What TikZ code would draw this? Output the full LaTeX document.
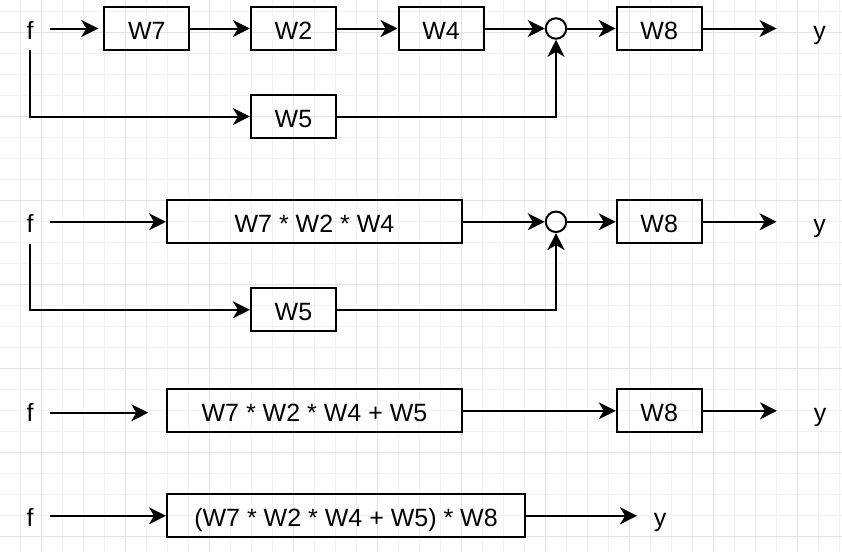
\documentclass[tikz,border=0pt]{standalone}
\usepackage{fontspec}
\setmainfont{Liberation Sans}
\usetikzlibrary{arrows.meta}

\definecolor{gridminor}{HTML}{F2F2F2}
\definecolor{gridmajor}{HTML}{E3E3E3}

\begin{document}
\begin{tikzpicture}[x=1pt,y=-1pt,
        every node/.style={font=\fontsize{25}{30}\selectfont,text height=21.6pt,text depth=0pt},
        block/.style={draw,line width=2pt,minimum width=85pt,minimum height=43pt,inner sep=0pt},
        sumpt/.style={draw,circle,line width=2pt,minimum size=20.5pt,inner sep=0pt,text height=0pt},
        sig/.style={inner xsep=16.5pt,inner ysep=10.7pt},
        outp/.style={inner xsep=36.5pt,inner ysep=0pt},
        arr/.style={line width=2pt,-{Stealth[length=17pt,width=17pt,inset=5pt]}},
        wire/.style={line width=2pt}]
            \useasboundingbox (0,0) rectangle (842,552);
            % background grid
            \foreach \gx in {-0.5,20.5,...,842} \draw[gridminor,line width=1pt] (\gx,0) -- (\gx,552);
            \foreach \gy in {11.7,32.7,...,552} \draw[gridminor,line width=1pt] (0,\gy) -- (842,\gy);
            \foreach \gx in {41.5,125.5,...,842} \draw[gridmajor,line width=1pt] (\gx,0) -- (\gx,552);
            \foreach \gy in {32.7,116.7,...,552} \draw[gridmajor,line width=1pt] (0,\gy) -- (842,\gy);

            % first scheme
            \node[sig] (f1) at (30,28.5) {f};
            \node[block] (w7) at (146.8,28.5) {W7};
            \node[block] (w2) at (293.4,28.5) {W2};
            \node[block] (w4) at (441,28.5) {W4};
            \node[sumpt] (s1) at (556,28.5) {};
            \node[block] (w8a) at (659.2,28.5) {W8};
            \node[outp] (y1) at (819.5,28.5) {y};
            \node[block] (w5a) at (293.4,116.5) {W5};
            \draw[arr,shorten >=5pt] (f1) -- (w7);
            \draw[arr] (w7) -- (w2);
            \draw[arr] (w2) -- (w4);
            \draw[arr] (w4) -- (s1);
            \draw[arr] (s1) -- (w8a);
            \draw[arr] (w8a) -- (y1);
            \draw[arr] (f1) |- (w5a);
            \draw[arr] (w5a) -| (s1);

            % second scheme
            \node[sig] (f2) at (30,221.8) {f};
            \node[block,minimum width=295pt] (m2) at (314.5,221.8) {W7 * W2 * W4};
            \node[sumpt] (s2) at (556,221.8) {};
            \node[block] (w8b) at (659.2,221.8) {W8};
            \node[outp] (y2) at (819.5,221.8) {y};
            \node[block] (w5b) at (293.4,309.8) {W5};
            \draw[arr] (f2) -- (m2);
            \draw[arr] (m2) -- (s2);
            \draw[arr] (s2) -- (w8b);
            \draw[arr] (w8b) -- (y2);
            \draw[arr] (f2) |- (w5b);
            \draw[arr] (w5b) -| (s2);

            % third scheme
            \node[sig] (f3) at (30,410.8) {f};
            \coordinate (b3) at (148.3,412.7);
            \node[block,minimum width=295pt] (m3) at (314.5,410.8) {W7 * W2 * W4 + W5};
            \node[block] (w8c) at (659.2,410.8) {W8};
            \node[outp] (y3) at (820,410.8) {y};
            \draw[arr] (f3.east |- b3) -- (b3);
            \draw[arr] (m3) -- (w8c);
            \draw[arr] (w8c) -- (y3);

            % fourth scheme
            \node[sig] (f4) at (30,515.8) {f};
            \node[block,minimum width=358pt] (m4) at (346,515.8) {(W7 * W2 * W4 + W5) * W8};
            \node[sig] (y4) at (660,515.8) {y};
            \draw[arr] (f4) -- (m4);
            \draw[arr] (m4) -- (y4);
        \end{tikzpicture}
\end{document}
